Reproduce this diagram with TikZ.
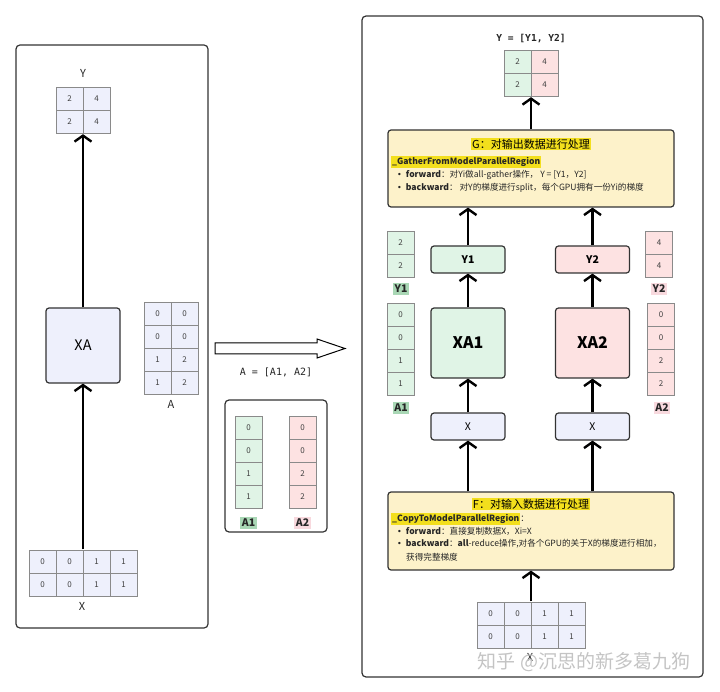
\documentclass[tikz,border=0pt]{standalone}
\usepackage{fontspec}
\setmainfont{Noto Sans CJK SC}
\newfontfamily\dvmono{DejaVu Sans Mono}
\newfontfamily\dvsans{DejaVu Sans}
\usetikzlibrary{matrix,arrows.meta}
\definecolor{bluef}{HTML}{EEF0FC}
\definecolor{greenf}{HTML}{E0F4E6}
\definecolor{pinkf}{HTML}{FDE2E2}
\definecolor{yellowf}{HTML}{FDF2CA}
\definecolor{hl}{HTML}{F3DF1D}
\definecolor{labg}{HTML}{A9D7B5}
\definecolor{labp}{HTML}{F8D9DE}
\definecolor{cellb}{HTML}{8A8A8A}
\definecolor{boxb}{HTML}{333333}
\definecolor{wm}{HTML}{C4C4C4}
\newcommand{\bul}{{\dvsans\fontsize{8}{10}\selectfont •}\hspace{4pt}}
\tikzset{
  cell/.style={draw=cellb, line width=0.8pt, minimum width=27pt, minimum height=23pt, inner sep=0pt,
    font=\fontsize{8}{9}\selectfont, text=black!75},
  mat/.style={matrix of nodes, inner sep=0pt, row sep=-0.8pt, column sep=-0.8pt, nodes={cell, fill=#1}},
  box/.style={draw=boxb, line width=1.2pt, rounded corners=3pt},
  panel/.style={draw=boxb, line width=1.2pt, rounded corners=4pt},
  arr/.style={line width=2.4pt, -{Straight Barb[length=6pt, width=17pt]}},
  lab/.style={font=\bfseries\fontsize{10.5}{12}\selectfont, inner sep=1.8pt, text=black!85},
  lbltxt/.style={font=\fontsize{11}{12}\selectfont, inner sep=0pt, text=black!85},
  bodytxt/.style={font=\fontsize{8.6}{10}\selectfont, anchor=west, inner sep=0pt, text=black!85},
}
\setlength{\fboxsep}{1pt}
\begin{document}
\begin{tikzpicture}[x=1pt,y=-1pt]
\useasboundingbox (0,0) rectangle (720,692);
% ---------- left panel ----------
\draw[panel] (16,45) rectangle (208,628);
\node[lbltxt] (lyl) at (83,73) {Y};
\matrix (Ly) [mat=bluef] at (83,110.5) {2 & 4\\ 2 & 4\\};
\node[box, fill=bluef, minimum width=74pt, minimum height=75pt, font=\fontsize{14.5}{16}\selectfont] (XA) at (83,345.5) {XA};
\matrix (La) [mat=bluef] at (171,348.5) {0 & 0\\ 0 & 0\\ 1 & 2\\ 1 & 2\\};
\node[lbltxt] (lal) at (171,404) {A};
\matrix (Lx) [mat=bluef] at (83,573) {0 & 0 & 1 & 1\\ 0 & 0 & 1 & 1\\};
\node[lbltxt] (lxl) at (82,606) {X};
\draw[arr] (Lx.north) -- (XA.south);
\draw[arr] (XA.north) -- (Ly.south);
% ---------- middle ----------
\draw[line width=1pt, fill=white] (215,343) -- (317,343) -- (317,339) -- (345,348.5) -- (317,358) -- (317,354) -- (215,354) -- cycle;
\node[lbltxt, font=\dvmono\fontsize{10}{12}\selectfont] (eqA) at (276,372) {A = [A1, A2]};
\draw[panel] (225,400) rectangle (327,532);
\matrix (Ma1) [mat=greenf] at (248.5,462.5) {0\\ 0\\ 1\\ 1\\};
\matrix (Ma2) [mat=pinkf] at (302.5,462.5) {0\\ 0\\ 2\\ 2\\};
\node[lab, fill=labg] (ma1l) at (248.5,523) {A1};
\node[lab, fill=labp] (ma2l) at (302.5,523) {A2};
% ---------- right panel ----------
\draw[panel] (362,16) rectangle (703,677);
\node[lbltxt, font=\dvmono\bfseries\fontsize{9.6}{12}\selectfont] (eqY) at (531,39) {Y = [Y1, Y2]};
\matrix (Ry) [mat=greenf, column 2/.style={nodes={fill=pinkf}}] at (531,73.5) {2 & 4\\ 2 & 4\\};
% G box
\node[box, fill=yellowf, minimum width=286pt, minimum height=77pt] (G) at (531,168.5) {};
\node[fill=hl, inner sep=1pt, font=\fontsize{11}{13}\selectfont] (Gt) at (531,144) {G：对输出数据进行处理};
\node[bodytxt] (Gh) at (391,162) {\colorbox{hl}{\textbf{\_GatherFromModelParallelRegion}}};
\node[bodytxt] (Gb1) at (397,175) {\bul\textbf{forward}：对Yi做all-gather操作， Y = [Y1，Y2]};
\node[bodytxt] (Gb2) at (397,188) {\bul\textbf{backward}： 对Y的梯度进行split，每个GPU拥有一份Yi的梯度};
% side columns
\matrix (Sy1) [mat=greenf] at (400.5,254.5) {2\\ 2\\};
\node[lab, fill=labg] (sy1l) at (401,289) {Y1};
\matrix (Sa1) [mat=greenf] at (400.5,349.5) {0\\ 0\\ 1\\ 1\\};
\node[lab, fill=labg] (sa1l) at (401,408) {A1};
\matrix (Sy2) [mat=pinkf] at (659,254.5) {4\\ 4\\};
\node[lab, fill=labp] (sy2l) at (659,289) {Y2};
\matrix (Sa2) [mat=pinkf] at (661,349.5) {0\\ 0\\ 2\\ 2\\};
\node[lab, fill=labp] (sa2l) at (662,408) {A2};
% columns of boxes
\node[box, fill=greenf, minimum width=74pt, minimum height=27pt, font=\bfseries\fontsize{10.5}{12}\selectfont] (Y1b) at (468,259.5) {Y1};
\node[box, fill=pinkf, minimum width=74pt, minimum height=27pt, font=\bfseries\fontsize{10.5}{12}\selectfont] (Y2b) at (592.5,259.5) {Y2};
\node[box, fill=greenf, minimum width=74pt, minimum height=70pt, font=\bfseries\fontsize{16}{18}\selectfont] (XA1) at (468,343) {XA1};
\node[box, fill=pinkf, minimum width=74pt, minimum height=70pt, font=\bfseries\fontsize{16}{18}\selectfont] (XA2) at (592.5,343) {XA2};
\node[box, fill=bluef, minimum width=74pt, minimum height=27pt, font=\fontsize{10.5}{12}\selectfont] (Xb1) at (468,426.5) {X};
\node[box, fill=bluef, minimum width=74pt, minimum height=27pt, font=\fontsize{10.5}{12}\selectfont] (Xb2) at (592.5,426.5) {X};
% F box
\node[box, fill=yellowf, minimum width=286pt, minimum height=78pt] (F) at (531,531) {};
\node[fill=hl, inner sep=1pt, font=\fontsize{11}{13}\selectfont] (Ft) at (531,504) {F：对输入数据进行处理};
\node[bodytxt] (Fh) at (391,519) {\colorbox{hl}{\textbf{\_CopyToModelParallelRegion}}：};
\node[bodytxt] (Fb1) at (397,531) {\bul\textbf{forward}：直接复制数据X，Xi=X};
\node[bodytxt] (Fb2) at (397,544) {\bul\textbf{backward}：\textbf{all}-reduce操作,对各个GPU的关于X的梯度进行相加，};
\node[bodytxt] (Fb3) at (406,557) {获得完整梯度};
% bottom X
\matrix (Rx) [mat=bluef] at (531,625) {0 & 0 & 1 & 1\\ 0 & 0 & 1 & 1\\};
\node[lbltxt] (rxl) at (530,657) {X};
% connectors
\draw[arr] (Rx.north) -- (F.south);
\draw[arr] (F.north -| Xb1) -- (Xb1.south);
\draw[arr] (F.north -| Xb2) -- (Xb2.south);
\draw[arr] (Xb1.north) -- (XA1.south);
\draw[arr] (Xb2.north) -- (XA2.south);
\draw[arr] (XA1.north) -- (Y1b.south);
\draw[arr] (XA2.north) -- (Y2b.south);
\draw[arr] (Y1b.north) -- (G.south -| Y1b);
\draw[arr] (Y2b.north) -- (G.south -| Y2b);
\draw[arr] (G.north) -- (Ry.south);
% watermark
\node[text=wm, font=\fontsize{19}{22}\selectfont, inner sep=0pt] (wmk) at (584,662) {知乎 @沉思的新多葛九狗};
\end{tikzpicture}
\end{document}
